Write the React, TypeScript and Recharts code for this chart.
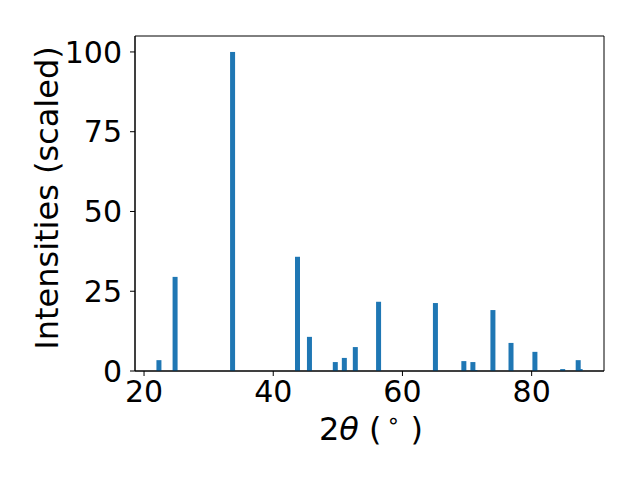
import { BarChart, Bar, XAxis, YAxis, ReferenceArea } from 'recharts'

// 2-theta positions (degrees) and scaled intensities
const twoTheta = [22.3, 24.8, 33.7, 43.75, 45.6, 49.6, 51.0, 52.7, 56.3, 65.1, 69.5, 70.9, 71.2, 74.0, 76.8, 80.5, 84.8, 87.2, 87.5]
const intensity = [3.4, 29.5, 100, 35.8, 10.7, 2.8, 4.1, 7.5, 21.7, 21.3, 3.1, 2.8, 0.3, 19.1, 8.8, 6.0, 0.6, 3.4, 0.6]

const xTicks = [20, 40, 60, 80]
const yTicks = [0, 25, 50, 75, 100]
const xDomain = [18.6, 91.2]
const yDomain = [0, 105]

const peaks = twoTheta.map((x, i) => ({ x, y: intensity[i] }))

const FONT = 'DejaVu Sans'
const BLUE = '#1f77b4'

// matplotlib-style bar: fixed pixel width centred on the peak position
const PeakBar = (props: any) => {
  const { x, y, width, height } = props
  if (!height || height <= 0) return null
  const cx = x + width / 2
  return <rect x={cx - 2.5} y={y} width={5} height={height} fill={BLUE} />
}

const XLabel = () => (
  <text x={371} y={440} textAnchor="middle" fontFamily={FONT} fontSize={32} fill="#000">
    <tspan>2</tspan>
    <tspan fontStyle="italic">θ</tspan>
    <tspan> (</tspan>
    <tspan dx={5} dy={-12} fontSize={22}>∘</tspan>
    <tspan dy={12}> )</tspan>
  </text>
)

const YLabel = () => (
  <text
    x={58}
    y={198}
    transform="rotate(-90 58 198)"
    textAnchor="middle"
    fontFamily={FONT}
    fontSize={32}
    fill="#000"
  >
    Intensities (scaled)
  </text>
)

export default function App() {
  const tickStyle = { fontFamily: FONT, fontSize: 30, fill: '#000' }
  return (
    <div style={{ position: 'absolute', left: 0, top: 0, background: '#fff' }}>
      <BarChart
        width={640}
        height={480}
        data={peaks}
        margin={{ top: 36, right: 36, bottom: 0, left: 0 }}
        barCategoryGap={0}
      >
        <XAxis
          dataKey="x"
          type="number"
          domain={xDomain}
          ticks={xTicks}
          allowDataOverflow
          height={109}
          tickSize={5}
          tickMargin={5}
          tick={tickStyle}
          axisLine={{ stroke: '#000', strokeWidth: 1 }}
          tickLine={{ stroke: '#000' }}
          label={{ content: () => <XLabel /> }}
        />
        <YAxis
          type="number"
          domain={yDomain}
          ticks={yTicks}
          allowDataOverflow
          width={135}
          tickSize={5}
          tickMargin={8}
          tick={tickStyle}
          axisLine={{ stroke: '#000', strokeWidth: 1 }}
          tickLine={{ stroke: '#000' }}
          label={{ content: () => <YLabel /> }}
        />
        <Bar dataKey="y" fill={BLUE} shape={PeakBar} isAnimationActive={false} />
        {/* axes frame (top and right spines) */}
        <ReferenceArea
          x1={xDomain[0]}
          x2={xDomain[1]}
          y1={yDomain[0]}
          y2={yDomain[1]}
          fill="none"
          stroke="#000"
          strokeWidth={1}
          ifOverflow="visible"
        />
      </BarChart>
    </div>
  )
}
